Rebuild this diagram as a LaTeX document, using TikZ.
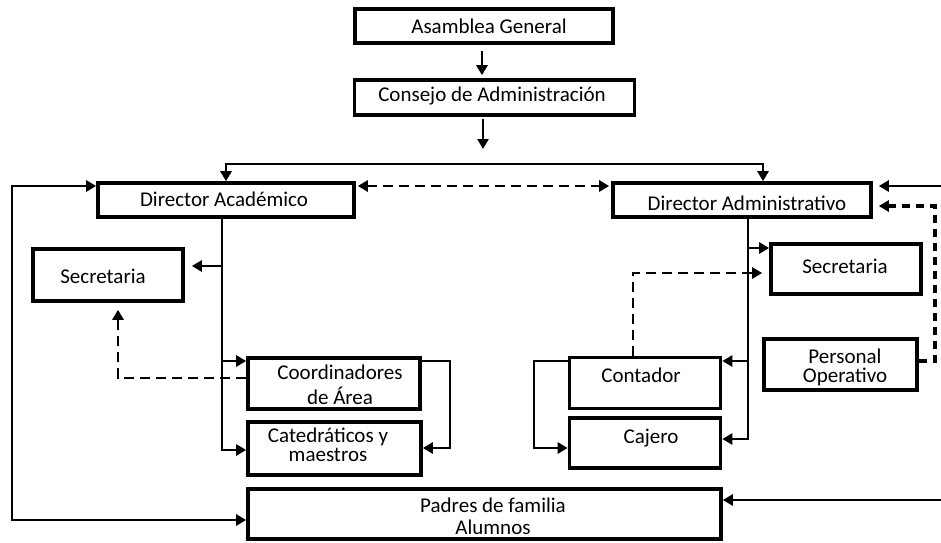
\documentclass[tikz,border=0pt]{standalone}
\usepackage{fontspec}
\setmainfont{Carlito}
\usetikzlibrary{arrows.meta}
\begin{document}
\begin{tikzpicture}[x=1pt,y=-1pt,
  box/.style={draw,line width=3.6pt,inner sep=0pt},
  txt/.style={inner sep=0pt,align=center,font=\fontsize{21}{19}\selectfont},
  tip/.tip={Triangle[length=10pt,width=11pt]},
  conn/.style={line width=2.6pt},
  arr/.style={conn,-tip},
  arrb/.style={conn,tip-tip},
  dsh/.style={line width=2.8pt,dash pattern=on 10pt off 6pt},
  dsq/.style={line width=3.2pt,dash pattern=on 8pt off 6pt}]
\useasboundingbox (0,0) rectangle (941,542);
% boxes
\node[box,minimum width=258pt,minimum height=34pt] (ag) at (484,26) {};
\node[box,minimum width=280pt,minimum height=35pt] (ca) at (494.5,97.5) {};
\node[box,minimum width=256pt,minimum height=34pt] (da) at (226,200) {};
\node[box,minimum width=258pt,minimum height=34pt] (dadm) at (742,200) {};
\node[box,minimum width=150pt,minimum height=52pt] (sec1) at (108,275) {};
\node[box,minimum width=150pt,minimum height=50pt] (sec2) at (846,269) {};
\node[box,minimum width=153pt,minimum height=51pt] (po) at (840.5,364.5) {};
\node[box,minimum width=172pt,minimum height=51pt] (coord) at (334,383.5) {};
\node[box,minimum width=173pt,minimum height=53pt] (cated) at (334.5,448.5) {};
\node[box,minimum width=151pt,minimum height=51pt] (cont) at (645,383) {};
\node[box,minimum width=151pt,minimum height=50pt] (caj) at (645,443) {};
\node[box,minimum width=473pt,minimum height=50pt] (padres) at (484.5,514) {};
% texts
\node[txt] (agT) at (489,26) {Asamblea General};
\node[txt] (caT) at (492,96) {Consejo de Administración};
\node[txt] (daT) at (224,199) {Director Académico};
\node[txt] (dadmT) at (747,203) {Director Administrativo};
\node[txt] (sec1T) at (103,276) {Secretaria};
\node[txt] (sec2T) at (845,266) {Secretaria};
\node[txt] (poT) at (845,367) {Personal\\Operativo};
\node[txt] (coordT) at (340,385) {Coordinadores\\[6pt]de Área};
\node[txt] (catedT) at (328,445) {Catedráticos y\\maestros};
\node[txt] (contT) at (641,375) {Contador};
\node[txt] (cajT) at (651,438) {Cajero};
\node[txt] (padT) at (493,516) {Padres de familia\\[3pt]Alumnos};
% coordinates
\coordinate (c1) at (483,149);
\coordinate (bl) at (226,164);
\coordinate (br) at (763,164);
\coordinate (ll1) at (12,186);
\coordinate (ll2) at (12,520);
\coordinate (t1) at (222,450);
\coordinate (t2) at (222,266);
\coordinate (t3) at (222,361);
\coordinate (r1) at (450,361);
\coordinate (r2) at (450,448);
\coordinate (d1) at (118,378);
\coordinate (u1) at (748,439);
\coordinate (u2) at (748,248);
\coordinate (u3) at (748,361);
\coordinate (v1) at (534,361);
\coordinate (v2) at (534,448);
\coordinate (w1) at (633,273);
\coordinate (e1) at (945,186);
\coordinate (p1) at (935,361);
\coordinate (p2) at (935,206);
\coordinate (e2) at (945,500);
% connectors
\draw[arr] ([xshift=-2pt,yshift=-6pt]ag.south) -- ([xshift=-2pt,yshift=3pt]ag.south |- ca.north);
\draw[arr] ([xshift=-11.5pt,yshift=-2pt]ca.south) -- (c1);
\draw[arrb] (da.north) -- (bl) -- (br) -- (br |- dadm.north);
\draw[dsh,tip-tip,shorten <=2pt,shorten >=2pt] ([yshift=14pt]da.east) -- ([yshift=14pt]dadm.west);
\draw[arrb] ([yshift=14pt]da.west) -- (ll1) -- (ll2) -- (ll2 -| padres.west);
% academic branch
\draw[arr] ([xshift=-4pt]da.south) -- (t1) -- (t1 -| cated.west);
\draw[arr,shorten >=7pt] (t2) -- (t2 -| sec1.east);
\draw[arr] (t3) -- (t3 -| coord.west);
\draw[arr] (coord.east |- r1) -- (r1) -- (r2) -- (r2 -| cated.east);
\draw[dsh,-tip,shorten >=7pt] (coord.west |- d1) -- (d1) -- (d1 |- sec1.south);
% administrative branch
\draw[arr] ([xshift=6pt]dadm.south) -- (u1) -- (u1 -| caj.east);
\draw[arr] (u2) -- (u2 -| sec2.west);
\draw[arr] (u3) -- (u3 -| cont.east);
\draw[arr] (cont.west |- v1) -- (v1) -- (v2) -- (v2 -| caj.west);
\draw[dsh,-tip,shorten >=7pt] (w1 |- cont.north) -- (w1) -- (w1 -| sec2.west);
\draw[arr,shorten >=6pt] (e1) -- (e1 -| dadm.east);
\draw[dsq,-tip,shorten >=6pt] (po.east |- p1) -- (p1) -- (p2) -- (p2 -| dadm.east);
\draw[arr] (e2) -- (e2 -| padres.east);
\end{tikzpicture}
\end{document}
